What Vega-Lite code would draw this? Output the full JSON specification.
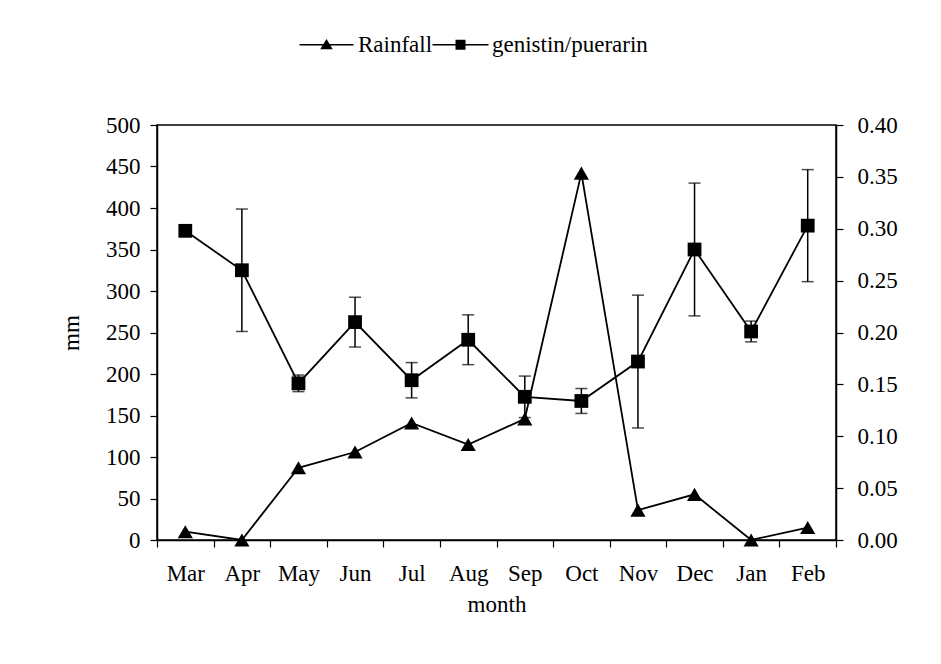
{
  "$schema": "https://vega.github.io/schema/vega-lite/v6.json",
  "autosize": "none",
  "width": 679,
  "height": 415,
  "padding": {"left": 157, "top": 125, "right": 105, "bottom": 124},
  "background": "white",
  "config": {
    "font": "Liberation Serif",
    "view": {"stroke": "black", "strokeWidth": 1.5},
    "axis": {
      "labelFont": "Liberation Serif",
      "titleFont": "Liberation Serif",
      "labelFontSize": 23,
      "titleFontSize": 23,
      "titleFontWeight": "normal",
      "labelColor": "black",
      "titleColor": "black",
      "domainColor": "black",
      "tickColor": "black",
      "domainWidth": 1.5,
      "tickWidth": 1.2,
      "tickSize": 7,
      "grid": false
    }
  },
  "data": {
    "values": [
      {"month": "Mar", "rain": 10, "ratio": 0.298, "err": 0.003},
      {"month": "Apr", "rain": 0, "ratio": 0.260, "err": 0.059},
      {"month": "May", "rain": 87, "ratio": 0.151, "err": 0.008},
      {"month": "Jun", "rain": 106, "ratio": 0.210, "err": 0.024},
      {"month": "Jul", "rain": 141, "ratio": 0.154, "err": 0.017},
      {"month": "Aug", "rain": 115, "ratio": 0.193, "err": 0.024},
      {"month": "Sep", "rain": 146, "ratio": 0.138, "err": 0.020},
      {"month": "Oct", "rain": 442, "ratio": 0.134, "err": 0.012},
      {"month": "Nov", "rain": 36, "ratio": 0.172, "err": 0.064},
      {"month": "Dec", "rain": 55, "ratio": 0.280, "err": 0.064},
      {"month": "Jan", "rain": 0, "ratio": 0.201, "err": 0.010},
      {"month": "Feb", "rain": 15, "ratio": 0.303, "err": 0.054}
    ]
  },
  "encoding": {
    "x": {
      "field": "month",
      "type": "ordinal",
      "sort": null,
      "scale": {"type": "band", "paddingInner": 0, "paddingOuter": 0},
      "axis": {
        "title": "month",
        "labelAngle": 0,
        "tickBand": "extent",
        "labelPadding": 15,
        "titlePadding": 8
      }
    }
  },
  "layer": [
    {
      "layer": [
        {
          "mark": {"type": "line", "color": "black", "strokeWidth": 1.8},
          "encoding": {
            "y": {
              "field": "rain",
              "type": "quantitative",
              "scale": {"domain": [0, 500], "nice": false},
              "axis": {
                "title": "mm",
                "values": [0, 50, 100, 150, 200, 250, 300, 350, 400, 450, 500],
                "labelPadding": 10,
                "titlePadding": 22
              }
            }
          }
        },
        {
          "mark": {"type": "point", "shape": "triangle-up", "filled": true, "color": "black", "size": 230, "opacity": 1},
          "encoding": {
            "y": {"field": "rain", "type": "quantitative"}
          }
        },
        {
          "transform": [{"filter": "false"}],
          "mark": {"type": "point", "filled": true, "color": "black", "opacity": 1},
          "encoding": {
            "y": {"field": "rain", "type": "quantitative"},
            "shape": {
              "datum": "Rainfall",
              "scale": {
                "domain": ["Rainfall", "genistin/puerarin"],
                "range": [
                  "M-5.4,-0.15H5.4V0.15H-5.4ZM0,-1.15L1.25,0.9H-1.25Z",
                  "M-5.6,-0.15H5.6V0.15H-5.6ZM-1,-1H1V1H-1Z"
                ]
              },
              "legend": {
                "title": null,
                "orient": "none",
                "direction": "horizontal",
                "legendX": 158,
                "legendY": -92,
                "padding": 0,
                "labelFont": "Liberation Serif",
                "labelFontSize": 23,
                "labelColor": "black",
                "labelOffset": 20,
                "columnPadding": -1,
                "symbolSize": 100,
                "symbolFillColor": "black",
                "symbolStrokeColor": "black",
                "symbolStrokeWidth": 0,
                "symbolOpacity": 1
              }
            }
          }
        }
      ]
    },
    {
      "layer": [
        {
          "mark": {"type": "line", "color": "black", "strokeWidth": 1.8},
          "encoding": {
            "y": {
              "field": "ratio",
              "type": "quantitative",
              "scale": {"domain": [0, 0.4], "nice": false},
              "axis": {
                "orient": "right",
                "title": null,
                "values": [0, 0.05, 0.1, 0.15, 0.2, 0.25, 0.3, 0.35, 0.4],
                "format": ".2f",
                "labelPadding": 14
              }
            }
          }
        },
        {
          "mark": {"type": "errorbar", "color": "black", "thickness": 1.5, "ticks": {"size": 12, "color": "black", "thickness": 1.5}},
          "encoding": {
            "y": {"field": "ratio", "type": "quantitative", "title": null},
            "yError": {"field": "err"}
          }
        },
        {
          "mark": {"type": "point", "shape": "square", "filled": true, "color": "black", "size": 190, "opacity": 1},
          "encoding": {
            "y": {"field": "ratio", "type": "quantitative"}
          }
        }
      ]
    }
  ],
  "resolve": {"scale": {"y": "independent"}}
}
